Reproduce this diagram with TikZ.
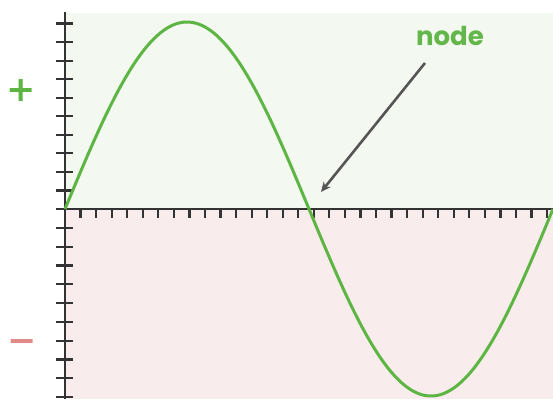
\documentclass[tikz,border=0pt]{standalone}
\usepackage{fontspec}
\setmainfont{Poppins}
\newfontfamily\djv{DejaVu Sans}
\usetikzlibrary{arrows.meta}
\definecolor{bgplus}{HTML}{F3F8F0}
\definecolor{bgminus}{HTML}{F9ECEC}
\definecolor{wave}{HTML}{5DB543}
\definecolor{lblgreen}{HTML}{62B64A}
\definecolor{minusred}{HTML}{E08A8A}
\definecolor{axisc}{HTML}{333333}
\definecolor{arrowc}{HTML}{555555}
\tikzset{
  axisline/.style={draw=axisc, line width=2.6pt},
  tickline/.style={draw=axisc, line width=2.2pt},
  wavestyle/.style={draw=wave, line width=3pt},
  pointer/.style={draw=arrowc, line width=2.6pt, -{Stealth[length=10pt,width=9pt]}},
  lbl/.style={text=lblgreen, font=\bfseries\fontsize{26}{30}\selectfont, inner sep=0pt},
  sign/.style={font=\djv\bfseries\fontsize{35}{38}\selectfont, inner sep=0pt}
}
\begin{document}
\begin{tikzpicture}[x=1pt,y=-1pt]
\useasboundingbox (0,0) rectangle (553,399);
\fill[bgplus] (65,13) rectangle (553,209);
\fill[bgminus] (65,209) rectangle (553,399);
% y ticks
\foreach \k in {1,...,10}{
  \draw[tickline] (56,{209-18.55*\k}) -- (73,{209-18.55*\k});
  \draw[tickline] (56,{209+18.8*\k}) -- (73,{209+18.8*\k});
}
% x ticks
\foreach \k in {1,...,31}{
  \draw[tickline] ({65+15.55*\k},209) -- ({65+15.55*\k},218);
}
\draw[axisline] (65,12) -- (65,399);
\draw[axisline] (56,209) -- (553,209);
\draw[wavestyle] plot[domain=0:360, samples=240, smooth] ({65+1.35556*\x},{209-187*sin(\x)});
\node[sign, text=wave] (plus) at (21.5,90.5) {+};
\node[sign, text=minusred] (minus) at (22,346) {−};
\node[lbl] (label) at (450,36) {node};
\coordinate (arrS) at (425,63);
\coordinate (arrE) at (321,192);
\draw[pointer] (arrS) -- (arrE);
\end{tikzpicture}
\end{document}
